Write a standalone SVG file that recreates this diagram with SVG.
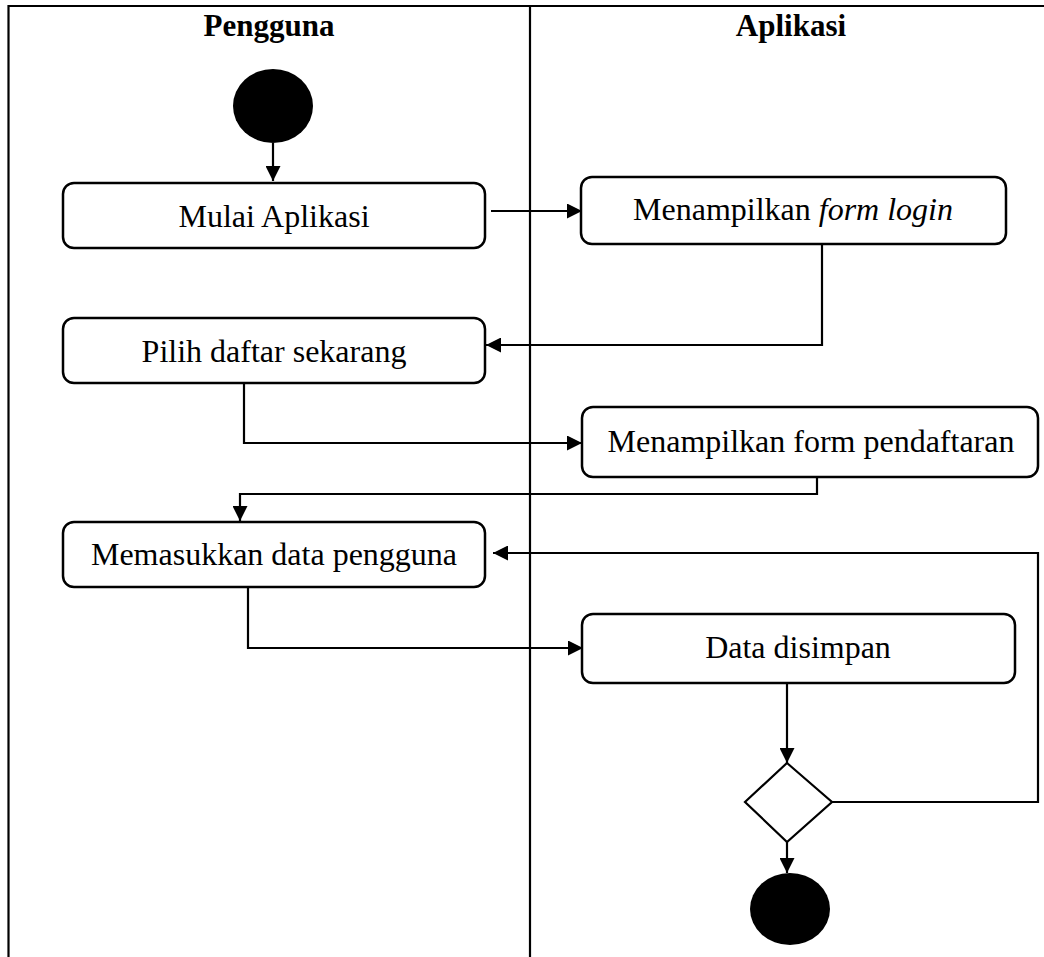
<svg xmlns="http://www.w3.org/2000/svg" width="1044" height="957" viewBox="0 0 1044 957">
  <style>
    .lane { stroke: #000; stroke-width: 2.2; fill: none; }
    .act { fill: #fff; stroke: #000; stroke-width: 2.5; }
    .lbl { font-family: "Liberation Serif", "Times New Roman", serif; font-size: 32px; fill: #000; text-anchor: middle; }
    .hdr { font-family: "Liberation Serif", "Times New Roman", serif; font-size: 31px; font-weight: bold; fill: #000; text-anchor: middle; }
    .flow { stroke: #000; stroke-width: 2.2; fill: none; marker-end: url(#arrow); }
  </style>
  <defs>
    <marker id="arrow" markerUnits="userSpaceOnUse" markerWidth="15" markerHeight="15" viewBox="0 0 15 15" refX="15" refY="7.5" orient="auto">
      <path d="M0,0 L15,7.5 L0,15 Z" fill="#000"/>
    </marker>
  </defs>

  <rect width="1044" height="957" fill="#fff"/>

  <!-- swimlane frame -->
  <g id="lanes">
    <path class="lane" d="M8.5,957 V6 H1044"/>
    <line class="lane" x1="530" y1="6" x2="530" y2="957"/>
    <text class="hdr" x="269" y="36">Pengguna</text>
    <text class="hdr" x="791" y="36">Aplikasi</text>
  </g>

  <!-- connectors -->
  <g id="connectors">
    <line class="flow" x1="273" y1="143" x2="273" y2="181"/>
    <line class="flow" x1="491" y1="211" x2="582" y2="211"/>
    <polyline class="flow" points="822,244 822,345 486,345"/>
    <polyline class="flow" points="244,383 244,443 582,443"/>
    <polyline class="flow" points="817,477 817,494 240,494 240,521"/>
    <polyline class="flow" points="248,587 248,648 583,648"/>
    <line class="flow" x1="787" y1="683" x2="787" y2="763"/>
    <polyline class="flow" points="832,802 1038,802 1038,553 493,553"/>
    <line class="flow" x1="787" y1="842" x2="787" y2="873"/>
  </g>

  <!-- start node -->
  <g id="start">
    <ellipse cx="273" cy="106" rx="40" ry="37" fill="#000"/>
  </g>

  <g id="mulai-aplikasi">
    <rect class="act" x="63" y="183" width="422" height="65" rx="11"/>
    <text class="lbl" x="274" y="227">Mulai Aplikasi</text>
  </g>

  <g id="form-login">
    <rect class="act" x="581" y="177" width="425" height="67" rx="11"/>
    <text class="lbl" x="793" y="220">Menampilkan <tspan font-style="italic">form login</tspan></text>
  </g>

  <g id="pilih-daftar">
    <rect class="act" x="63" y="318" width="422" height="65" rx="11"/>
    <text class="lbl" x="274" y="362">Pilih daftar sekarang</text>
  </g>

  <g id="form-pendaftaran">
    <rect class="act" x="582" y="407" width="456" height="70" rx="11"/>
    <text class="lbl" x="811" y="452">Menampilkan form pendaftaran</text>
  </g>

  <g id="memasukkan-data">
    <rect class="act" x="63" y="522" width="422" height="65" rx="11"/>
    <text class="lbl" x="274" y="565">Memasukkan data pengguna</text>
  </g>

  <g id="data-disimpan">
    <rect class="act" x="582" y="614" width="433" height="69" rx="11"/>
    <text class="lbl" x="798" y="658">Data disimpan</text>
  </g>

  <g id="decision">
    <polygon points="787,763 832,802 787,842 745,802" fill="#fff" stroke="#000" stroke-width="2.2"/>
  </g>

  <g id="end">
    <ellipse cx="790" cy="909" rx="40" ry="36" fill="#000"/>
  </g>
</svg>
